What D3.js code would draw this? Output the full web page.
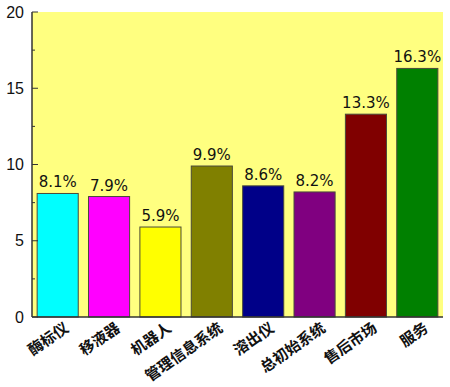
<!DOCTYPE html>
<html>
<head>
  <meta charset="utf-8">
  <script src="https://d3js.org/d3.v7.min.js"></script>
  <style>
    body { margin: 0; background: #fff; }
    svg { display: block; }
  </style>
</head>
<body>
<script>
  // chart values
  var categories = ["酶标仪", "移液器", "机器人", "管理信息系统", "溶出仪", "总初始系统", "售后市场", "服务"];
  var values = [8.1, 7.9, 5.9, 9.9, 8.6, 8.2, 13.3, 16.3];
  var labels = ["8.1%", "7.9%", "5.9%", "9.9%", "8.6%", "8.2%", "13.3%", "16.3%"];
  var colors = ["#00ffff", "#ff00ff", "#ffff00", "#808000", "#000088", "#800080", "#800000", "#008000"];
  var yTicks = [0, 5, 10, 15, 20];

  var width = 450, height = 387;
  var plotLeft = 32, plotRight = 443, plotTop = 12, plotBottom = 317;

  var svg = d3.select("body").append("svg")
      .attr("width", width)
      .attr("height", height);

  var x = d3.scaleBand()
      .domain(categories)
      .range([plotLeft, plotRight])
      .paddingInner(0.2)
      .paddingOuter(0.1);

  var y = d3.scaleLinear()
      .domain([0, 20])
      .range([plotBottom, plotTop]);

  // plot background
  svg.append("rect")
      .attr("x", plotLeft)
      .attr("y", plotTop)
      .attr("width", plotRight - plotLeft)
      .attr("height", plotBottom - plotTop)
      .attr("fill", "#ffff80");

  // bars
  svg.selectAll("rect.bar")
      .data(values)
      .enter()
      .append("rect")
      .attr("class", "bar")
      .attr("x", function(d, i) { return x(categories[i]); })
      .attr("y", function(d) { return y(d); })
      .attr("width", x.bandwidth())
      .attr("height", function(d) { return y(0) - y(d); })
      .attr("fill", function(d, i) { return colors[i]; })
      .attr("stroke", "#4a4a3a")
      .attr("stroke-width", 1);

  // value labels
  svg.selectAll("text.val")
      .data(values)
      .enter()
      .append("text")
      .attr("class", "val")
      .attr("x", function(d, i) { return x(categories[i]) + x.bandwidth() / 2; })
      .attr("y", function(d) { return y(d) - 6; })
      .attr("text-anchor", "middle")
      .style("font-family", "'DejaVu Sans', sans-serif")
      .style("font-size", "15px")
      .style("fill", "#111")
      .text(function(d, i) { return labels[i]; });

  // y axis: major ticks inside, minor ticks every 2.5
  var yAxis = svg.append("g").attr("transform", "translate(" + plotLeft + ",0)");
  yAxis.append("line")
      .attr("x1", 0).attr("x2", 0)
      .attr("y1", plotTop).attr("y2", plotBottom)
      .attr("stroke", "#333").attr("stroke-width", 1.5);
  yAxis.selectAll("line.major")
      .data(yTicks)
      .enter().append("line")
      .attr("class", "major")
      .attr("x1", 0).attr("x2", 6)
      .attr("y1", function(d) { return y(d); })
      .attr("y2", function(d) { return y(d); })
      .attr("stroke", "#333");
  yAxis.selectAll("line.minor")
      .data(d3.range(2.5, 20, 5))
      .enter().append("line")
      .attr("class", "minor")
      .attr("x1", 0).attr("x2", 3)
      .attr("y1", function(d) { return y(d); })
      .attr("y2", function(d) { return y(d); })
      .attr("stroke", "#333");
  yAxis.selectAll("text")
      .data(yTicks)
      .enter().append("text")
      .attr("x", -8)
      .attr("y", function(d) { return y(d); })
      .attr("dy", "0.35em")
      .attr("text-anchor", "end")
      .style("font-family", "'Liberation Sans', Arial, sans-serif")
      .style("font-size", "16px")
      .style("fill", "#111")
      .text(function(d) { return d; });

  // x axis line
  svg.append("line")
      .attr("x1", plotLeft).attr("x2", plotRight)
      .attr("y1", plotBottom).attr("y2", plotBottom)
      .attr("stroke", "#333").attr("stroke-width", 1.5);

  // rotated category labels
  svg.selectAll("text.cat")
      .data(categories)
      .enter()
      .append("text")
      .attr("class", "cat")
      .attr("transform", function(d) {
        return "translate(" + (x(d) + x.bandwidth() / 2 + 9) + "," + (plotBottom + 9) + ") rotate(-35)";
      })
      .attr("text-anchor", "end")
      .attr("dy", "0.35em")
      .style("font-family", "'Noto Sans CJK SC', sans-serif")
      .style("font-size", "15px")
      .style("font-weight", "bold")
      .style("fill", "#111")
      .text(function(d) { return d; });
</script>
</body>
</html>
